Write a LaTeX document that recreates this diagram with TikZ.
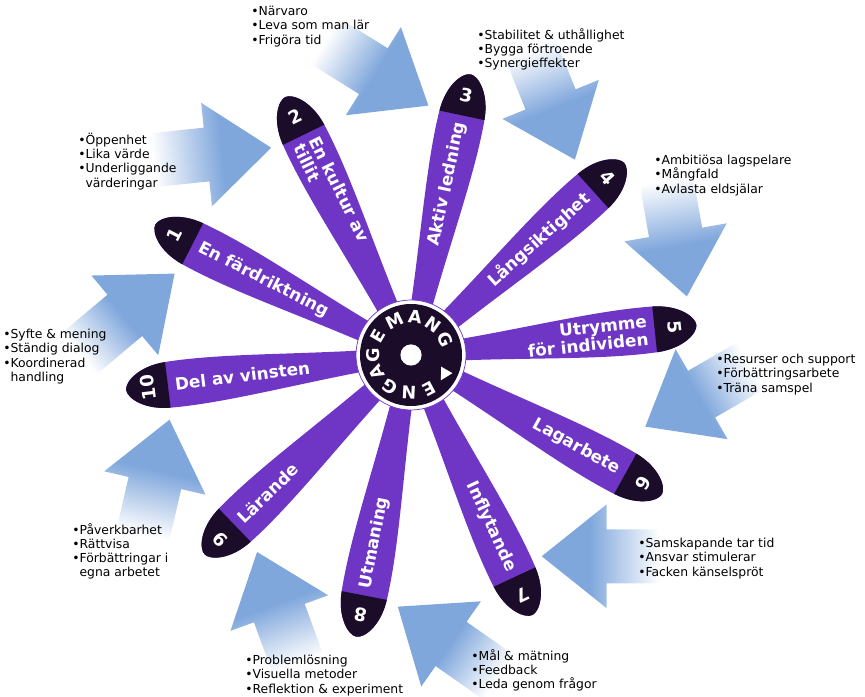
\documentclass[tikz,border=0pt]{standalone}
\usepackage{fontspec}
\setmainfont{DejaVu Sans}
\usetikzlibrary{calc}

\definecolor{petalc}{RGB}{111,54,198}
\definecolor{tipc}{RGB}{27,12,42}
\definecolor{arrowc}{RGB}{128,167,220}
\pgfdeclareverticalshading{arrowfade}{100bp}{color(0bp)=(white); color(38bp)=(white); color(60bp)=(arrowc); color(100bp)=(arrowc)}

\begin{document}
\begin{tikzpicture}[
		x=0.025cm, y=0.025cm,
		petal/.style={fill=petalc},
		tipcap/.style={fill=tipc},
		lbl/.style={text=white, inner sep=0, font=\fontsize{12}{12.5}\selectfont\bfseries},
		lt/.style={lbl, anchor=west, align=left},
		rt/.style={lbl, anchor=east, align=right},
		num/.style={text=white, inner sep=0, font=\fontsize{13}{13}\selectfont\bfseries},
		ring/.style={text=white, inner sep=0, font=\fontsize{12.5}{12.5}\selectfont\bfseries},
		notes/.style={anchor=north west, align=left, inner sep=0, font=\fontsize{8.8}{10.1}\selectfont},
		flow/.style={shading=arrowfade}
		]
		\useasboundingbox (0,0) rectangle (865,696);
		\coordinate (ctr) at (411,341);
		% Arrows (tip angle / tip radius / direction)
		\foreach \ta/\tr/\da [count=\i] in {124/250/6, 86/250/-32, 50/255/-68, 12/282/-80, -17/245/-150,
			-57/240/180, -93/252/145, -128/250/110, -165/250/77, 161/250/40}
		{
			\pgfmathsetmacro\sa{\da-90}
			\coordinate (tip\i) at ($(ctr)+(\ta:\tr)$);
			\coordinate (base\i) at ($(tip\i)+(\da+180:65)$);
			\coordinate (tail\i) at ($(tip\i)+(\da+180:160)$);
			\shade[flow, shading angle=\sa] (tip\i) -- ($(base\i)+(\da+90:52)$) -- ($(base\i)+(\da+90:27)$)
				-- ($(tail\i)+(\da+90:27)$) -- ($(tail\i)+(\da-90:27)$)
				-- ($(base\i)+(\da-90:27)$) -- ($(base\i)+(\da-90:52)$) -- cycle;
		}
		% Notes
		\node[notes] (n1) at (78,563) {•Öppenhet\\•Lika värde\\•Underliggande\\\phantom{•}värderingar};
		\node[notes] (n2) at (251,690) {•Närvaro\\•Leva som man lär\\•Frigöra tid};
		\node[notes] (n3) at (477,668) {•Stabilitet \& uthållighet\\•Bygga förtroende\\•Synergieffekter};
		\node[notes] (n4) at (654,541) {•Ambitiösa lagspelare\\•Mångfald\\•Avlasta eldsjälar};
		\node[notes] (n5) at (716,342) {•Resurser och support\\•Förbättringsarbete\\•Träna samspel};
		\node[notes] (n6) at (638,158) {•Samskapande tar tid\\•Ansvar stimulerar\\•Facken känselspröt};
		\node[notes] (n7) at (471,47) {•Mål \& mätning\\•Feedback\\•Leda genom frågor};
		\node[notes] (n8) at (245,41) {•Problemlösning\\•Visuella metoder\\•Reflektion \& experiment};
		\node[notes] (n9) at (72,173) {•Påverkbarhet\\•Rättvisa\\•Förbättringar i\\\phantom{•}egna arbetet};
		\node[notes] (n10) at (3,367) {•Syfte \& mening\\•Ständig dialog\\•Koordinerad\\\phantom{•}handling};
		% Petals
		\foreach \pa/\pnum/\rot/\sty/\lbltxt [count=\i] in {
			153/1/-27/lt/{En färdriktning},
			116/2/-64/lt/{En kultur av\\tillit},
			78/3/78/rt/{Aktiv ledning},
			42/4/42/rt/{Långsiktighet},
			6/5/6/rt/{Utrymme\\för individen},
			-29/6/-29/rt/{Lagarbete},
			-65/7/-65/rt/{Inflytande},
			-101/8/79/lt/{Utmaning},
			-136/9/44/lt/{Lärande},
			-173/10/7/lt/{Del av vinsten}}
		{
			\begin{scope}[shift={(ctr)}, rotate=\pa]
				\fill[petal] (40,-10) .. controls (120,-15) and (190,-25) .. (245,-23)
					.. controls (272,-22) and (287,-8) .. (287,0)
					.. controls (287,8) and (272,22) .. (245,23)
					.. controls (190,25) and (120,15) .. (40,10) -- cycle;
				\fill[tipcap] (245,-23) .. controls (272,-22) and (287,-8) .. (287,0)
					.. controls (287,8) and (272,22) .. (245,23) -- cycle;
			\end{scope}
			\node[num, rotate=\pa-90] (nr\i) at ($(ctr)+(\pa:265)$) {\pnum};
			\node[\sty, rotate=\rot] (lb\i) at ($(ctr)+(\pa:238)$) {\lbltxt};
		}
		% Hub
		\node[circle, fill=white, draw=petalc, line width=0.5pt, minimum size=2.75cm, inner sep=0] (hubring) at (ctr) {};
		\node[circle, fill=tipc, minimum size=2.55cm, inner sep=0] (hub) at (ctr) {};
		\node[circle, fill=white, minimum size=0.53cm, inner sep=0] (hole) at (ctr) {};
		\foreach \ch/\an [count=\j] in {E/-62,N/-93,G/-123,A/-153,G/180,E/150,M/116,A/84,N/54,G/24}
			\node[ring, rotate=\an-90] (ch\j) at ($(ctr)+(\an:38)$) {\ch};
		\begin{scope}[shift={(ctr)}, rotate=-30]
			\fill[white] (32,5) -- (45,5) -- (38.5,-7) -- cycle;
		\end{scope}
\end{tikzpicture}
\end{document}
